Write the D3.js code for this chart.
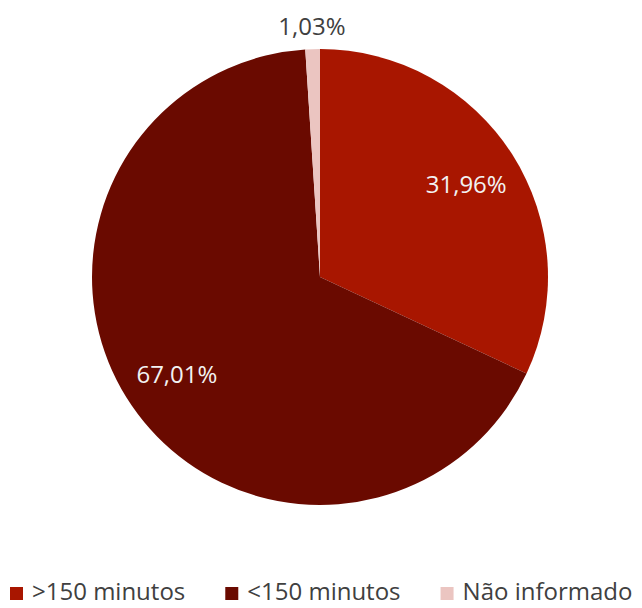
<!DOCTYPE html>
<html>
<head>
<meta charset="utf-8">
<script src="https://cdn.jsdelivr.net/npm/d3@7"></script>
<style>
  html, body { margin: 0; padding: 0; background: #ffffff; }
  svg { display: block; font-family: "Open Sans", "Noto Sans", sans-serif; }
</style>
</head>
<body>
<svg id="chart" width="642" height="608"></svg>
<script>
// Share of responses by duration
const categories = [">150 minutos", "<150 minutos", "Não informado"];
const values = [31.96, 67.01, 1.03];
const labels = ["31,96%", "67,01%", "1,03%"];
const colors = ["#A81600", "#6A0A00", "#EBC5C1"];

const svg = d3.select("#chart");
const cx = 320, cy = 277, R = 228;

const data = categories.map((c, i) => ({ name: c, value: values[i], label: labels[i], color: colors[i] }));

const pie = d3.pie().value(d => d.value).sort(null);
const arcs = pie(data);
const arc = d3.arc().innerRadius(0).outerRadius(R);

const g = svg.append("g").attr("transform", `translate(${cx},${cy})`);

g.selectAll("path.slice")
  .data(arcs)
  .join("path")
  .attr("class", "slice")
  .attr("d", arc)
  .attr("fill", d => d.data.color);

// Labels: inside the large slices, outside the tiny one
const inner = d3.arc().innerRadius(R * 0.76).outerRadius(R * 0.76);
const outer = d3.arc().innerRadius(R * 1.1).outerRadius(R * 1.1);

g.selectAll("text.lbl")
  .data(arcs)
  .join("text")
  .attr("class", "lbl")
  .attr("transform", d => {
    const small = (d.endAngle - d.startAngle) < 0.2;
    const [x, y] = (small ? outer : inner).centroid(d);
    return `translate(${x},${y})`;
  })
  .attr("text-anchor", "middle")
  .attr("dy", "0.36em")
  .attr("font-size", 24)
  .attr("fill", d => (d.endAngle - d.startAngle) < 0.2 ? "#404040" : "#F2F2F2")
  .text(d => d.data.label);

// Legend along the bottom
const legend = svg.append("g").attr("class", "legend");
const items = legend.selectAll("g.item")
  .data(data)
  .join("g")
  .attr("class", "item");

items.append("rect")
  .attr("width", 13)
  .attr("height", 13)
  .attr("y", -13)
  .attr("fill", d => d.color);

items.append("text")
  .attr("x", 22)
  .attr("font-size", 24)
  .attr("fill", "#404040")
  .text(d => d.name);

// Spread the legend entries across the width
let x = 10;
const gap = 40;
items.each(function () {
  const node = d3.select(this);
  node.attr("transform", `translate(${x},600)`);
  x += 22 + node.select("text").node().getComputedTextLength() + gap;
});
</script>
</body>
</html>
